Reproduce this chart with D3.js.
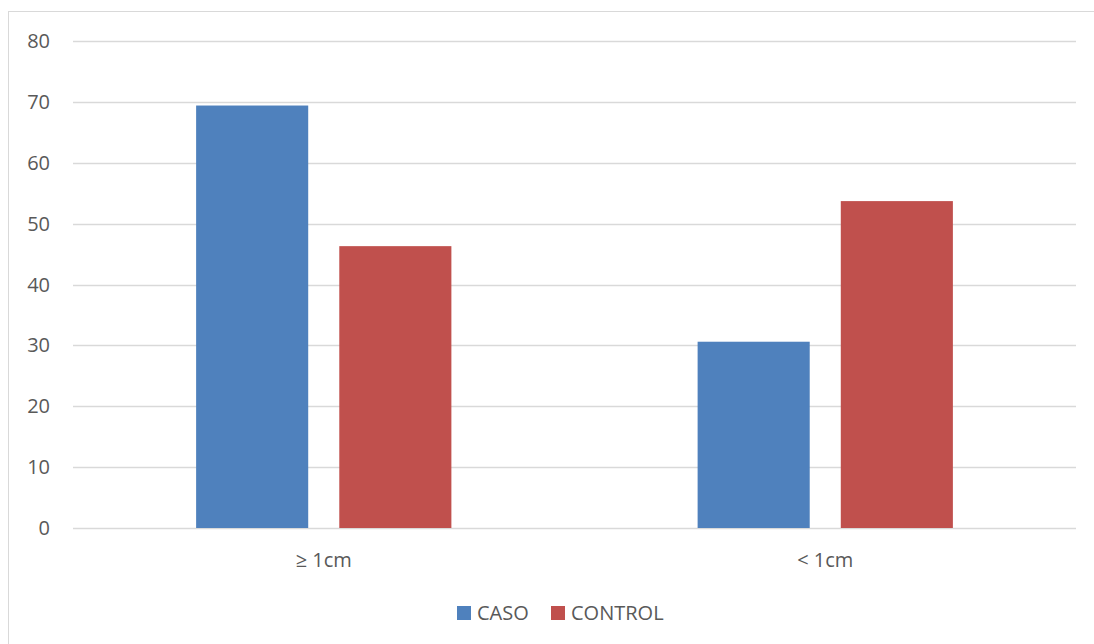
<!DOCTYPE html>
<html lang="es">
<head>
    <meta charset="UTF-8">
    <title>CASO vs CONTROL</title>
    <script src="https://d3js.org/d3.v7.min.js"></script>
    <style>
        body { margin: 0; background: #fff; }
        text { font-family: "Open Sans", "Liberation Sans", sans-serif; fill: #595959; }
    </style>
</head>
<body>
<script>
    const categories = ["≥ 1cm", "< 1cm"];
    const seriesNames = ["CASO", "CONTROL"];
    const caso = [69.4, 30.6];
    const control = [46.3, 53.7];
    const yTicks = [0, 10, 20, 30, 40, 50, 60, 70, 80];
    const colors = ["#4f81bd", "#c0504d"];

    const width = 1094;
    const height = 644;
    const plot = { left: 73, right: 1076, top: 41, bottom: 528 };
    const fontSize = 20;

    const svg = d3.select("body").append("svg")
        .attr("width", width)
        .attr("height", height);

    // chart frame
    svg.append("rect")
        .attr("x", 8.5).attr("y", 11.5)
        .attr("width", 1100).attr("height", 660)
        .attr("fill", "none")
        .attr("stroke", "#d9d9d9")
        .attr("stroke-width", 1);

    const x0 = d3.scaleBand()
        .domain(categories)
        .range([plot.left, plot.right])
        .padding(0);

    const x1 = d3.scaleBand()
        .domain(seriesNames)
        .range([x0.bandwidth() * 0.2455, x0.bandwidth() * 0.7545])
        .paddingInner(0.217)
        .paddingOuter(0);

    const y = d3.scaleLinear()
        .domain([0, 80])
        .range([plot.bottom, plot.top]);

    // gridlines
    svg.append("g")
        .selectAll("line")
        .data(yTicks)
        .join("line")
        .attr("x1", plot.left).attr("x2", plot.right)
        .attr("y1", d => Math.round(y(d)) + 0.5)
        .attr("y2", d => Math.round(y(d)) + 0.5)
        .attr("stroke", "#d9d9d9")
        .attr("stroke-width", 1.5);

    // y tick labels
    svg.append("g")
        .selectAll("text")
        .data(yTicks)
        .join("text")
        .attr("x", 50)
        .attr("y", d => y(d))
        .attr("dy", "0.35em")
        .attr("text-anchor", "end")
        .attr("font-size", fontSize)
        .text(d => d);

    const rows = categories.map((c, i) => ({ cat: c, values: [caso[i], control[i]] }));

    const groups = svg.append("g")
        .selectAll("g")
        .data(rows)
        .join("g")
        .attr("transform", d => `translate(${x0(d.cat)},0)`);

    groups.selectAll("rect")
        .data(d => d.values.map((v, j) => ({ key: seriesNames[j], value: v, j })))
        .join("rect")
        .attr("x", d => x1(d.key))
        .attr("y", d => y(d.value))
        .attr("width", x1.bandwidth())
        .attr("height", d => y(0) - y(d.value))
        .attr("fill", d => colors[d.j]);

    // x labels
    svg.append("g")
        .selectAll("text")
        .data(categories)
        .join("text")
        .attr("x", d => x0(d) + x0.bandwidth() / 2)
        .attr("y", 560)
        .attr("dy", "0.35em")
        .attr("text-anchor", "middle")
        .attr("font-size", fontSize)
        .text(d => d);

    // legend
    const legendX = [457, 551];
    const legend = svg.append("g")
        .selectAll("g")
        .data(seriesNames)
        .join("g")
        .attr("transform", (d, i) => `translate(${legendX[i]},613)`);

    legend.append("rect")
        .attr("x", 0).attr("y", -7)
        .attr("width", 14).attr("height", 14)
        .attr("fill", (d, i) => colors[i]);

    legend.append("text")
        .attr("x", 20)
        .attr("dy", "0.35em")
        .attr("font-size", fontSize)
        .text(d => d);
</script>
</body>
</html>
